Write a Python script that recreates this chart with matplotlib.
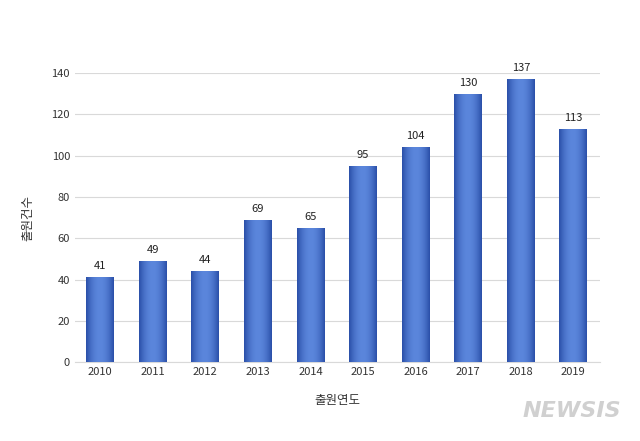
import numpy as np
import matplotlib
matplotlib.use("Agg")
import matplotlib.pyplot as plt

plt.rcParams['font.family'] = ['Noto Sans CJK KR', 'DejaVu Sans']

years = ["2010", "2011", "2012", "2013", "2014", "2015", "2016", "2017", "2018", "2019"]
counts = [41, 49, 44, 69, 65, 95, 104, 130, 137, 113]

fig = plt.figure(figsize=(6.4, 4.41), dpi=100)
ax = fig.add_axes([0.117, 0.179, 0.82, 0.655])
x = np.arange(len(years))
bars = ax.bar(x, counts, width=0.53, color="#3a64c0", zorder=2)

# horizontal gradient: darker edges, lighter middle
grad = np.linspace(-1, 1, 64)
grad = (1 - grad ** 2)[None, :]
cmap = matplotlib.colors.LinearSegmentedColormap.from_list("b", ["#2a4fa8", "#5b86dc"])
for b, c in zip(bars, counts):
    bx, by, bw, bh = b.get_x(), b.get_y(), b.get_width(), b.get_height()
    im = ax.imshow(grad, extent=[bx, bx + bw, by, by + bh], aspect="auto",
                   cmap=cmap, zorder=3)
    im.set_clip_path(b)
    ax.text(bx + bw / 2, bh + 3, str(c), ha="center", va="bottom",
            fontsize=8, color="#222222")

ax.set_xlim(-0.48, 9.5)
ax.set_ylim(0, 140)
ax.set_yticks(range(0, 141, 20))
ax.set_xticks(x)
ax.set_xticklabels(years)
ax.tick_params(length=0, labelsize=8, colors="#333333")
ax.yaxis.grid(True, color="#d9d9d9", lw=0.8, zorder=0)
for s in ax.spines.values():
    s.set_visible(False)
ax.spines["bottom"].set_visible(True)
ax.spines["bottom"].set_color("#d9d9d9")
ax.set_ylabel("출원건수", fontsize=9, color="#333333", labelpad=12)
ax.set_xlabel("출원연도", fontsize=9, color="#333333", labelpad=12)

fig.text(0.97, 0.045, "NEWSIS", ha="right", va="bottom", fontsize=16,
         fontweight="bold", style="italic", color="#d0d0d0", family="DejaVu Sans")

fig.savefig("out.png", dpi=100)
